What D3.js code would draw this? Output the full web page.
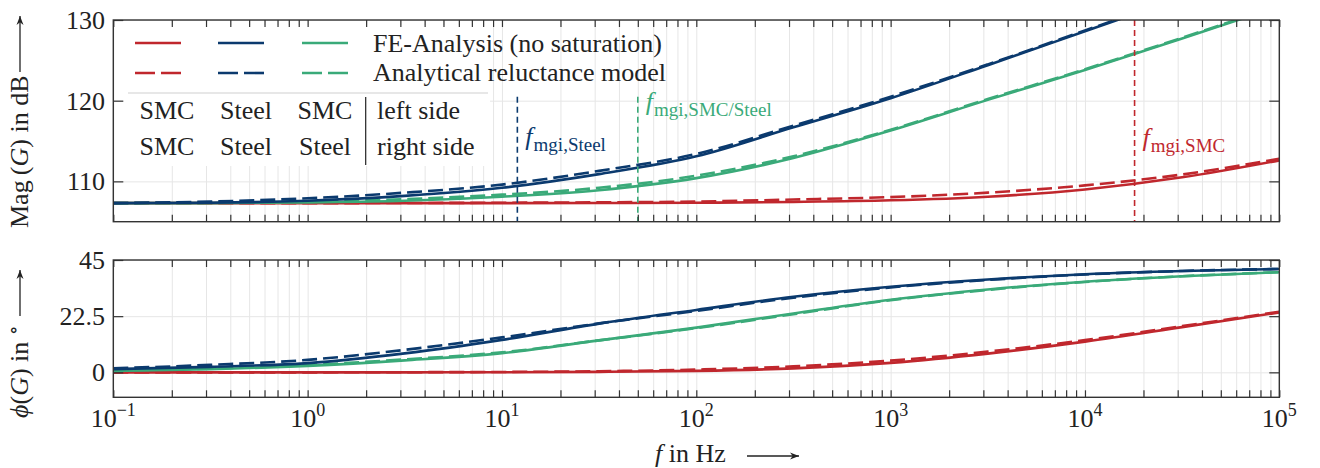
<!DOCTYPE html>
<html lang="en">
<head>
<meta charset="UTF-8">
<title>Bode plot</title>
<script src="https://d3js.org/d3.v7.min.js"></script>
<style>
    body { margin: 0; padding: 0; background: #fff; }
    svg { display: block; }
    text { font-family: "Liberation Serif", "DejaVu Serif", serif; }
    .grid line { stroke: #e6e6e6; stroke-width: 1; }
    .grid path { display: none; }
    .tick-ax line { stroke: #333; stroke-width: 1.2; }
    .tick-ax path { display: none; }
</style>
</head>
<body>
<svg id="chart" width="1320" height="468" font-family="Liberation Serif, DejaVu Serif, serif"></svg>
<script>
// frequency points (Hz)
var freq = [0.1, 0.316, 1, 3.16, 10, 31.6, 100, 316, 1000, 3162, 10000, 31623, 100000];

// magnitude in dB
var magSmcFE    = [107.3, 107.3, 107.3, 107.3, 107.3, 107.32, 107.35, 107.45, 107.65, 108.1, 109.0, 110.5, 112.6];
var magSmcAn    = [107.3, 107.3, 107.3, 107.32, 107.35, 107.4, 107.5, 107.75, 108.05, 108.6, 109.5, 110.85, 112.8];
var magSteelFE  = [107.3, 107.35, 107.6, 108.2, 109.2, 110.9, 113.1, 116.7, 120.3, 124.4, 128.6, 132.8, 137.0];
var magSteelAn  = [107.3, 107.5, 107.9, 108.6, 109.6, 111.3, 113.4, 116.9, 120.5, 124.5, 128.7, 132.9, 137.1];
var magMixFE    = [107.3, 107.3, 107.4, 107.6, 108.1, 108.9, 110.4, 112.9, 116.3, 120.1, 123.8, 127.7, 131.7];
var magMixAn    = [107.3, 107.35, 107.5, 107.8, 108.35, 109.2, 110.7, 113.1, 116.4, 120.2, 123.9, 127.8, 131.8];

// phase in degrees
var phSmcFE     = [0, 0, 0, 0, 0.05, 0.2, 0.6, 1.6, 3.8, 7.5, 12.3, 18.1, 24.0];
var phSmcAn     = [0, 0, 0, 0.05, 0.15, 0.45, 1.1, 2.4, 4.7, 8.3, 12.9, 18.5, 24.3];
var phSteelFE   = [1.3, 2.2, 3.7, 7.6, 13.0, 19.5, 25.0, 30.3, 34.3, 37.2, 39.3, 40.6, 41.4];
var phSteelAn   = [1.6, 3.0, 5.0, 9.0, 14.0, 19.6, 24.6, 29.9, 34.0, 37.0, 39.2, 40.6, 41.4];
var phMixFE     = [0.6, 1.3, 2.6, 4.8, 7.7, 12.8, 17.9, 23.6, 29.1, 33.2, 36.3, 38.5, 40.1];
var phMixAn     = [0.8, 1.5, 2.9, 5.2, 8.0, 12.8, 17.7, 23.3, 28.9, 33.0, 36.2, 38.5, 40.1];

// magnetic interaction frequencies
var fMgi       = [12, 50, 18000];
var fMgiTop    = [120.5, 120.5, 130];
var fMgiSub    = ["mgi,Steel", "mgi,SMC/Steel", "mgi,SMC"];
var fMgiLabelY = [145, 110, 146];

var magTicks = [110, 120, 130];
var phTicks = [0, 22.5, 45];
var xMajor = [0.1, 1, 10, 100, 1000, 10000, 100000];
var xMajorExp = ["\u22121", "0", "1", "2", "3", "4", "5"];

var cRed = "#c0272d", cBlue = "#0b3a6e", cGreen = "#3aaa79";
var colors = [cRed, cBlue, cGreen];
var serif = "Liberation Serif, DejaVu Serif, serif";

var svg = d3.select("#chart");
var x = d3.scaleLog().domain([0.1, 1e5]).range([113.3, 1279.3]);
var yMag = d3.scaleLinear().domain([105, 130]).range([221.7, 20]);
var yPh = d3.scaleLinear().domain([-10, 45]).range([397.3, 260]);

var xAll = x.ticks();

function panel(y, yTicks, id) {
    var r = y.range();
    var g = svg.append("g");
    var x0 = x.range()[0], x1 = x.range()[1];
    var h = r[0] - r[1];

    g.append("g").attr("class", "grid")
        .attr("transform", "translate(0," + r[0] + ")")
        .call(d3.axisBottom(x).tickValues(xAll).tickSize(-h).tickFormat(""));
    g.append("g").attr("class", "grid")
        .attr("transform", "translate(" + x0 + ",0)")
        .call(d3.axisLeft(y).tickValues(yTicks).tickSize(-(x1 - x0)).tickFormat(""));

    svg.append("clipPath").attr("id", id)
        .append("rect").attr("x", x0).attr("y", r[1]).attr("width", x1 - x0).attr("height", h);
    return g;
}

function frame(g, y, yTicks) {
    var r = y.range();
    var x0 = x.range()[0], x1 = x.range()[1];
    var ax = g.append("g");
    ax.append("g").attr("class", "tick-ax").attr("transform", "translate(0," + r[0] + ")")
        .call(d3.axisBottom(x).tickValues(xAll).tickSize(-7).tickFormat(""));
    ax.append("g").attr("class", "tick-ax").attr("transform", "translate(0," + r[1] + ")")
        .call(d3.axisTop(x).tickValues(xAll).tickSize(-7).tickFormat(""));
    ax.append("g").attr("class", "tick-ax").attr("transform", "translate(" + x0 + ",0)")
        .call(d3.axisLeft(y).tickValues(yTicks).tickSize(-10).tickFormat(""));
    ax.append("g").attr("class", "tick-ax").attr("transform", "translate(" + x1 + ",0)")
        .call(d3.axisRight(y).tickValues(yTicks).tickSize(-10).tickFormat(""));
    ax.append("rect").attr("x", x0).attr("y", r[1]).attr("width", x1 - x0).attr("height", r[0] - r[1])
        .attr("fill", "none").attr("stroke", "#333").attr("stroke-width", 1.4);

    ax.selectAll(".ylab").data(yTicks).enter().append("text")
        .attr("x", 105).attr("y", function (d) { return y(d); }).attr("dy", "0.34em")
        .attr("text-anchor", "end").attr("font-size", 26).attr("fill", "#222")
        .attr("font-family", serif)
        .text(function (d) { return d; });
}

function curves(g, y, series, clipId) {
    var line = d3.line()
        .x(function (d) { return x(d[0]); })
        .y(function (d) { return y(d[1]); })
        .curve(d3.curveMonotoneX);
    var cg = g.append("g").attr("clip-path", "url(#" + clipId + ")");
    series.forEach(function (s) {
        cg.append("path")
            .datum(freq.map(function (f, i) { return [f, s.v[i]]; }))
            .attr("d", line)
            .attr("fill", "none")
            .attr("stroke", s.c)
            .attr("stroke-width", 2.6)
            .attr("stroke-dasharray", s.dash ? "15,6" : null);
    });
    return cg;
}

function txt(parent, xx, yy, size) {
    return parent.append("text").attr("x", xx).attr("y", yy)
        .attr("font-size", size).attr("font-family", serif).attr("fill", "#222");
}

// ---------- magnitude panel ----------
var gMag = panel(yMag, magTicks, "clipMag");
curves(gMag, yMag, [
    { v: magSmcFE, c: cRed }, { v: magSmcAn, c: cRed, dash: true },
    { v: magMixFE, c: cGreen }, { v: magMixAn, c: cGreen, dash: true },
    { v: magSteelFE, c: cBlue }, { v: magSteelAn, c: cBlue, dash: true }
], "clipMag");

// mgi marker lines
var mgiColors = [cBlue, cGreen, cRed];
fMgi.forEach(function (f, i) {
    gMag.append("line")
        .attr("x1", x(f)).attr("x2", x(f))
        .attr("y1", yMag(fMgiTop[i])).attr("y2", yMag(105))
        .attr("stroke", mgiColors[i]).attr("stroke-width", 1.6)
        .attr("stroke-dasharray", "6,4");
    var t = txt(gMag, x(f) + 8, fMgiLabelY[i], 26).attr("fill", mgiColors[i]);
    t.append("tspan").attr("font-style", "italic").text("f");
    t.append("tspan").attr("font-size", 19).attr("dy", 6).attr("dx", 1).text(fMgiSub[i]);
});

// legend
var lg = gMag.append("g");
lg.append("rect").attr("x", 123).attr("y", 25).attr("width", 367).attr("height", 141).attr("fill", "#fff");
var sampleX = [135, 218, 302];
[0, 1].forEach(function (row) {
    var yy = row === 0 ? 43 : 73;
    colors.forEach(function (c, i) {
        lg.append("line")
            .attr("x1", sampleX[i]).attr("x2", sampleX[i] + 46)
            .attr("y1", yy).attr("y2", yy)
            .attr("stroke", c).attr("stroke-width", 2.6)
            .attr("stroke-dasharray", row === 1 ? "20,6" : null);
    });
});
txt(lg, 373, 52, 26).text("FE-Analysis (no saturation)");
txt(lg, 373, 81, 26).text("Analytical reluctance model");
lg.append("line").attr("x1", 128).attr("x2", 488).attr("y1", 93).attr("y2", 93)
    .attr("stroke", "#cfcfcf").attr("stroke-width", 1);
lg.append("line").attr("x1", 365.7).attr("x2", 365.7).attr("y1", 97).attr("y2", 165)
    .attr("stroke", "#222").attr("stroke-width", 1.2);

var leftSide = ["SMC", "Steel", "SMC"];
var rightSide = ["SMC", "Steel", "Steel"];
var colX = [167, 246, 325];
[leftSide, rightSide].forEach(function (rowTxt, r) {
    var yy = r === 0 ? 119 : 155;
    rowTxt.forEach(function (t, i) {
        txt(lg, colX[i], yy, 26).attr("text-anchor", "middle").text(t);
    });
    txt(lg, 377, yy, 26).text(r === 0 ? "left side" : "right side");
});

frame(gMag, yMag, magTicks);

// ---------- phase panel ----------
var gPh = panel(yPh, phTicks, "clipPh");
curves(gPh, yPh, [
    { v: phSmcFE, c: cRed }, { v: phSmcAn, c: cRed, dash: true },
    { v: phMixFE, c: cGreen }, { v: phMixAn, c: cGreen, dash: true },
    { v: phSteelFE, c: cBlue }, { v: phSteelAn, c: cBlue, dash: true }
], "clipPh");
frame(gPh, yPh, phTicks);

// x tick labels
xMajor.forEach(function (f, i) {
    var t = txt(svg, x(f), 427, 26).attr("text-anchor", "middle");
    t.append("tspan").text("10");
    t.append("tspan").attr("font-size", 18).attr("dy", -11).text(xMajorExp[i]);
});

// axis titles
function arrow(x1, y1, x2, y2) {
    var ang = Math.atan2(y2 - y1, x2 - x1);
    svg.append("line").attr("x1", x1).attr("y1", y1).attr("x2", x2).attr("y2", y2)
        .attr("stroke", "#222").attr("stroke-width", 1.3);
    var L = 9, w = 3.5;
    var p = [
        [x2, y2],
        [x2 - L * Math.cos(ang) + w * Math.sin(ang), y2 - L * Math.sin(ang) - w * Math.cos(ang)],
        [x2 - 0.7 * L * Math.cos(ang), y2 - 0.7 * L * Math.sin(ang)],
        [x2 - L * Math.cos(ang) - w * Math.sin(ang), y2 - L * Math.sin(ang) + w * Math.cos(ang)]
    ];
    svg.append("path").attr("d", "M" + p.join("L") + "Z").attr("fill", "#222");
}

var tMag = txt(svg, 0, 0, 26).attr("transform", "translate(28,228) rotate(-90)");
tMag.append("tspan").text("Mag\u2009(");
tMag.append("tspan").attr("font-style", "italic").text("G");
tMag.append("tspan").text(") in dB");
arrow(20, 72, 20, 16);

var tPh = txt(svg, 0, 0, 26).attr("transform", "translate(28,418) rotate(-90)");
tPh.append("tspan").attr("font-style", "italic").text("\u03d5");
tPh.append("tspan").text("(");
tPh.append("tspan").attr("font-style", "italic").text("G");
tPh.append("tspan").text(") in ");
tPh.append("tspan").attr("font-size", 20).attr("dy", -8).text("\u2218");
arrow(20, 316, 20, 270);

var tX = txt(svg, 655, 462, 26);
tX.append("tspan").attr("font-style", "italic").text("f");
tX.append("tspan").text(" in Hz");
arrow(747, 456, 799, 456);
</script>
</body>
</html>
